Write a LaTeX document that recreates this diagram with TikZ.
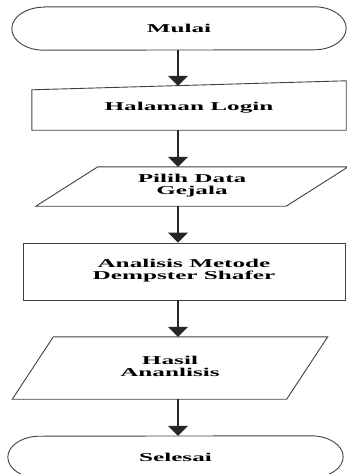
\documentclass[tikz,border=0pt]{standalone}
\usepackage{graphicx}
\usepackage{fontspec}
\setmainfont{Liberation Serif}
\usetikzlibrary{arrows.meta}

\newcommand{\wide}[1]{\scalebox{2.1}[1]{#1}}

\begin{document}
\begin{tikzpicture}[x=1pt,y=-1pt,
    box/.style={inner sep=0pt, align=center, font=\fontsize{12}{12}\selectfont\bfseries},
    outline/.style={draw=black!75, line width=0.9pt},
    flow/.style={draw=black!85, line width=1.4pt, -{Triangle[width=20pt,length=10pt]}}]
      \useasboundingbox (0,0) rectangle (347,474);
      \clip (0,0) rectangle (347,474);
      \coordinate (axis) at (178,0);

      % nodes
      \node[box, minimum width=334pt, minimum height=43pt] (mulai) at (179,28.5) {\wide{Mulai}};
      \node[box, minimum width=314pt, minimum height=44pt] (login) at (189,108) {\wide{Halaman Login}};
      \node[box, minimum width=250pt, minimum height=39pt] (pilih) at (192,186.5)
           {\wide{\begin{tabular}{@{}c@{}}Pilih Data\\Gejala\end{tabular}}};
      \node[box, outline, minimum width=322pt, minimum height=57pt] (analisis) at (184,271.5)
           {\wide{\begin{tabular}{@{}c@{}}Analisis Metode\\Dempster Shafer\end{tabular}}};
      \node[box, minimum width=274pt, minimum height=62pt] (hasil) at (170,368)
           {\wide{\begin{tabular}{@{}c@{}}Hasil\\Ananlisis\end{tabular}}};
      \node[box, minimum width=335pt, minimum height=42pt] (selesai) at (175.5,457) {\wide{Selesai}};

      % outlines
      \draw[outline] ([xshift=32pt]mulai.north west) -- ([xshift=-32pt]mulai.north east)
            arc[start angle=90,end angle=-90,x radius=32pt,y radius=21.5pt]
            -- ([xshift=32pt]mulai.south west)
            arc[start angle=270,end angle=90,x radius=32pt,y radius=21.5pt] -- cycle;
      \draw[outline] (login.south west) -- ([yshift=-4pt]login.north west)
            -- ([yshift=5pt]login.north east) -- (login.south east) -- cycle;
      \draw[outline] ([xshift=-31pt]pilih.south west) -- ([xshift=31pt]pilih.north west)
            -- ([xshift=31pt]pilih.north east) -- ([xshift=-31pt]pilih.south east) -- cycle;
      \draw[outline] ([xshift=-20.5pt]hasil.south west) -- ([xshift=20.5pt]hasil.north west)
            -- ([xshift=20.5pt]hasil.north east) -- ([xshift=-20.5pt]hasil.south east) -- cycle;
      \draw[outline] ([xshift=-32pt]selesai.south east) -- ([xshift=32pt]selesai.south west)
            arc[start angle=270,end angle=90,x radius=32pt,y radius=21pt]
            -- ([xshift=-32pt]selesai.north east)
            arc[start angle=90,end angle=-90,x radius=32pt,y radius=21pt] -- cycle;

      % connectors
      \draw[flow] (mulai.south -| axis) -- (login.north -| axis);
      \draw[flow] (login.south -| axis) -- (pilih.north -| axis);
      \draw[flow] (pilih.south -| axis) -- (analisis.north -| axis);
      \draw[flow] (analisis.south -| axis) -- (hasil.north -| axis);
      \draw[flow] (hasil.south -| axis) -- (selesai.north -| axis);
\end{tikzpicture}
\end{document}
